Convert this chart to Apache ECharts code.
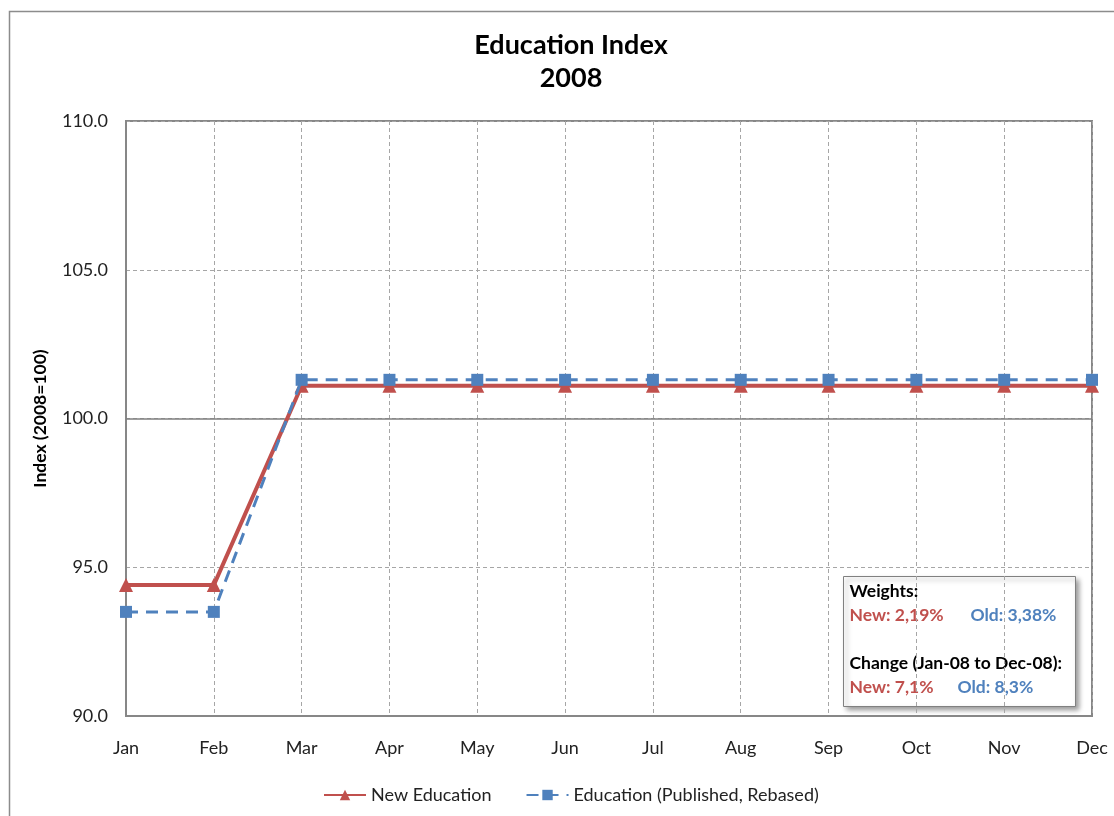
<!DOCTYPE html>
<html>
<head>
<meta charset="utf-8">
<script src="https://cdn.jsdelivr.net/npm/echarts@6/dist/echarts.min.js"></script>
<style>
  html, body { margin: 0; padding: 0; background: #ffffff; }
  #chart { width: 1114px; height: 816px; }
</style>
</head>
<body>
<div id="chart"></div>
<script>
// Monthly index values, 2008 = 100
const months = ['Jan', 'Feb', 'Mar', 'Apr', 'May', 'Jun', 'Jul', 'Aug', 'Sep', 'Oct', 'Nov', 'Dec'];
const newEducation = [94.4, 94.4, 101.1, 101.1, 101.1, 101.1, 101.1, 101.1, 101.1, 101.1, 101.1, 101.1];
const publishedRebased = [93.5, 93.5, 101.3, 101.3, 101.3, 101.3, 101.3, 101.3, 101.3, 101.3, 101.3, 101.3];
const weightNew = '2,19%';
const weightOld = '3,38%';
const yTicks = [90, 95, 100, 105, 110];

const RED = '#C0504D';
const BLUE = '#4F81BD';
const FONT = 'Lato, "Open Sans", sans-serif';

// Jan-to-Dec change, written with a decimal comma
function changeText(arr) {
  const pct = (arr[arr.length - 1] / arr[0] - 1) * 100;
  return pct.toFixed(1).replace('.', ',') + '%';
}

const chart = echarts.init(document.getElementById('chart'));

const boxX = 843, boxY = 576, boxW = 232, boxH = 130;
const boxFont = 'bold 17.5px ' + FONT;

chart.setOption({
  backgroundColor: '#ffffff',
  animation: false,
  title: {
    text: 'Education Index\n2008',
    left: 566,
    top: 24,
    textAlign: 'center',
    textStyle: {
      fontFamily: FONT,
      fontWeight: 'bold',
      fontSize: 27,
      lineHeight: 33,
      color: '#000000'
    }
  },
  legend: {
    bottom: 7,
    left: 318,
    itemWidth: 42,
    itemHeight: 13,
    itemGap: 34,
    textStyle: { fontFamily: FONT, fontSize: 18, color: '#222222' },
    data: ['New Education', 'Education (Published, Rebased)']
  },
  grid: {
    left: 126,
    right: 22,
    top: 121,
    bottom: 100,
    show: true,
    borderColor: '#878787',
    borderWidth: 2,
    backgroundColor: 'transparent'
  },
  xAxis: {
    type: 'category',
    data: months,
    boundaryGap: false,
    axisLine: { show: true, lineStyle: { color: '#878787', width: 2 } },
    axisTick: { show: false },
    axisLabel: { margin: 23, fontFamily: FONT, fontSize: 18, color: '#222222' },
    splitLine: { show: true, lineStyle: { color: '#a6a6a6', type: [4, 3], width: 1 } }
  },
  yAxis: {
    type: 'value',
    min: yTicks[0],
    max: yTicks[yTicks.length - 1],
    interval: 5,
    name: 'Index (2008=100)',
    nameLocation: 'middle',
    nameGap: 77,
    nameTextStyle: { fontFamily: FONT, fontWeight: 'bold', fontSize: 17.5, color: '#000000' },
    axisLine: { show: true, lineStyle: { color: '#878787', width: 2 } },
    axisTick: { show: false },
    axisLabel: {
      margin: 18,
      fontFamily: FONT,
      fontSize: 18,
      color: '#222222',
      formatter: v => v.toFixed(1)
    },
    splitLine: { show: true, lineStyle: { color: '#a6a6a6', type: [4, 3], width: 1 } }
  },
  series: [
    {
      name: 'New Education',
      type: 'line',
      data: newEducation,
      symbol: 'triangle',
      symbolSize: 14,
      itemStyle: { color: RED },
      lineStyle: { color: RED, width: 4 },
      z: 3,
      markLine: {
        silent: true,
        symbol: 'none',
        label: { show: false },
        lineStyle: { color: '#7f7f7f', type: 'solid', width: 1.5 },
        data: [{ yAxis: 100 }],
        z: 1
      }
    },
    {
      name: 'Education (Published, Rebased)',
      type: 'line',
      data: publishedRebased,
      symbol: 'rect',
      symbolSize: 12,
      itemStyle: { color: BLUE },
      lineStyle: { color: BLUE, width: 3, type: [12, 8] },
      z: 4
    }
  ],
  graphic: [
    {
      type: 'rect',
      left: 7,
      top: 9,
      shape: { width: 1120, height: 820 },
      style: { fill: 'none', stroke: '#8c8c8c', lineWidth: 1.5 },
      silent: true,
      z: 0
    },
    {
      type: 'group',
      left: boxX,
      top: boxY,
      z: 100,
      children: [
        {
          type: 'rect',
          shape: { x: 0, y: 0, width: boxW, height: boxH },
          style: {
            fill: '#ffffff',
            stroke: '#808080',
            lineWidth: 1,
            shadowBlur: 5,
            shadowOffsetX: 3,
            shadowOffsetY: 3,
            shadowColor: 'rgba(0,0,0,0.4)'
          }
        },
        {
          type: 'text', x: 6, y: 15,
          style: { text: 'Weights:', fill: '#000000', font: boxFont, verticalAlign: 'middle' }
        },
        {
          type: 'text', x: 6, y: 39,
          style: { text: 'New: ' + weightNew, fill: RED, font: boxFont, verticalAlign: 'middle' }
        },
        {
          type: 'text', x: 127, y: 39,
          style: { text: 'Old: ' + weightOld, fill: BLUE, font: boxFont, verticalAlign: 'middle' }
        },
        {
          type: 'text', x: 6, y: 87,
          style: { text: 'Change (Jan-08 to Dec-08):', fill: '#000000', font: boxFont, verticalAlign: 'middle' }
        },
        {
          type: 'text', x: 6, y: 111,
          style: { text: 'New: ' + changeText(newEducation), fill: RED, font: boxFont, verticalAlign: 'middle' }
        },
        {
          type: 'text', x: 114, y: 111,
          style: { text: 'Old: ' + changeText(publishedRebased), fill: BLUE, font: boxFont, verticalAlign: 'middle' }
        }
      ]
    }
  ]
});
</script>
</body>
</html>
